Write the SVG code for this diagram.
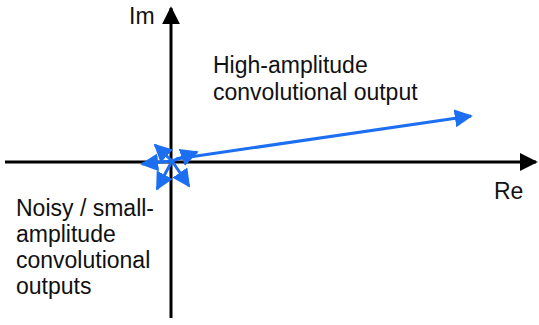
<svg xmlns="http://www.w3.org/2000/svg" width="539" height="325" viewBox="0 0 539 325">
<style>
text{font-family:"Liberation Sans",Arial,sans-serif;font-size:23px;fill:#111}
.ax{stroke:#000;stroke-width:3;fill:none}
.v{stroke:#1b6ff0;stroke-width:3;fill:none}
</style>
<defs>
<marker id="ah" viewBox="0 0 10 10" refX="9" refY="5" markerWidth="6" markerHeight="6" orient="auto" markerUnits="strokeWidth"><path d="M0,0L10,5L0,10z" fill="#000"/></marker>
<marker id="bh" viewBox="0 0 10 10" refX="9" refY="5" markerWidth="6" markerHeight="6" orient="auto" markerUnits="strokeWidth"><path d="M0,0L10,5L0,10z" fill="#1b6ff0"/></marker>
</defs>
<g id="connectors">
<line class="ax" x1="5" y1="162" x2="536" y2="162" marker-end="url(#ah)"/>
<line class="ax" x1="171" y1="318" x2="171" y2="8" marker-end="url(#ah)"/>
<line class="v" x1="176" y1="159" x2="471" y2="116" marker-end="url(#bh)"/>
<line class="v" x1="172" y1="161" x2="142" y2="164" marker-end="url(#bh)"/>
<line class="v" x1="172" y1="161" x2="155" y2="145" marker-end="url(#bh)"/>
<line class="v" x1="172" y1="161" x2="197" y2="152" marker-end="url(#bh)"/>
<line class="v" x1="172" y1="161" x2="157" y2="189" marker-end="url(#bh)"/>
<line class="v" x1="172" y1="161" x2="189" y2="186" marker-end="url(#bh)"/>
</g>
<g id="label-im"><text x="129" y="24">Im</text></g>
<g id="label-re"><text x="494" y="199">Re</text></g>
<g id="label-high"><text x="213" y="73">High-amplitude</text><text x="213" y="100">convolutional output</text></g>
<g id="label-noisy"><text x="16" y="216">Noisy / small-</text><text x="16" y="242">amplitude</text><text x="16" y="268">convolutional</text><text x="16" y="294">outputs</text></g>
</svg>
